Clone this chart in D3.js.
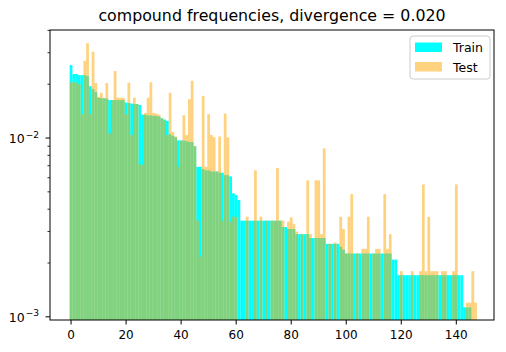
<!DOCTYPE html>
<html>
<head>
<meta charset="utf-8">
<script src="https://cdn.jsdelivr.net/npm/d3@7"></script>
<style>
    body { margin: 0; background: #fff; }
    svg { display: block; font-family: "DejaVu Sans", sans-serif; }
</style>
</head>
<body>
<svg id="chart" width="506" height="352"></svg>
<script>
// values (relative frequency per compound index)
const trainFreq = [
    0.0256, 0.0228, 0.0228, 0.0225, 0.0225, 0.0225, 0.0222, 0.0195, 0.0188, 0.0181,
    0.0168, 0.0167, 0.0167, 0.0166, 0.0163, 0.0163, 0.0163, 0.0163, 0.0163, 0.0163,
    0.0158, 0.0157, 0.0156, 0.0155, 0.0155, 0.0153, 0.0135, 0.0135, 0.0134, 0.0134,
    0.0133, 0.0133, 0.0132, 0.0129, 0.0127, 0.0125, 0.0105, 0.0103, 0.0101, 0.0097,
    0.0097, 0.0097, 0.0096, 0.0095, 0.0095, 0.0090, 0.0069, 0.0069, 0.0067, 0.0066,
    0.0066, 0.0065, 0.0065, 0.0065, 0.0064, 0.0064, 0.0062, 0.0062, 0.0061, 0.0049,
    0.0048, 0.0045, 0.00345, 0.00345, 0.00345, 0.00345, 0.00345, 0.00345, 0.00345, 0.00345,
    0.00345, 0.00345, 0.00345, 0.00345, 0.00345, 0.00345, 0.00345, 0.00318, 0.00318, 0.0031,
    0.0031, 0.0031, 0.0029, 0.0029, 0.0029, 0.0029, 0.0029, 0.00276, 0.00276, 0.00276,
    0.00276, 0.00276, 0.00276, 0.00256, 0.00256, 0.00256, 0.00256, 0.00256, 0.00247, 0.00238,
    0.00226, 0.00226, 0.00226, 0.00226, 0.00226, 0.00226, 0.00226, 0.00226, 0.00226, 0.00226,
    0.00226, 0.00226, 0.00226, 0.00226, 0.00226, 0.00226, 0.00226, 0.00209, 0.00209, 0.00171,
    0.00171, 0.00171, 0.00171, 0.00171, 0.00171, 0.00171, 0.00171, 0.00171, 0.00171, 0.00171,
    0.00171, 0.00171, 0.00171, 0.00171, 0.00171, 0.00171, 0.00171, 0.00171, 0.00171, 0.00171,
    0.00171, 0.00171, 0.00171, 0.00113, 0.00113, 0.00113
];

const testFreq = [
    0.0205, 0.0205, 0.0205, 0.0200, 0.0136, 0.0270, 0.0339, 0.0136, 0.0304, 0.0203,
    0.0170, 0.0179, 0.0167, 0.0203, 0.0106, 0.0163, 0.0237, 0.0168, 0.0168, 0.0168,
    0.0136, 0.0204, 0.0104, 0.0168, 0.0155, 0.0071, 0.0071, 0.0138, 0.0168, 0.0205,
    0.0138, 0.0137, 0.0135, 0.0129, 0.0125, 0.0104, 0.0179, 0.0108, 0.0102, 0.0069,
    0.0096, 0.0134, 0.0104, 0.0165, 0.0209, 0.0090, 0.00345, 0.00217, 0.0172, 0.0069,
    0.0136, 0.0104, 0.0101, 0.0065, 0.0102, 0.00345, 0.0137, 0.0101, 0.0034, 0.00363,
    0.00363, 0, 0, 0, 0.00363, 0, 0, 0.0066, 0, 0.00363,
    0, 0.00345, 0, 0.00345, 0.00345, 0.0068, 0.00345, 0.00345, 0, 0.00341,
    0.0036, 0.0033, 0.0030, 0, 0.0029, 0, 0.0058, 0.0029, 0, 0.0058,
    0.0058, 0.0029, 0.00876, 0, 0.00256, 0, 0.0026, 0, 0.00363, 0.0031,
    0.00226, 0.00363, 0.00486, 0, 0.00226, 0, 0.0024, 0.0024, 0.00363, 0,
    0.00226, 0.0024, 0.0024, 0, 0.00486, 0.0024, 0.0029, 0, 0, 0,
    0.0018, 0, 0, 0, 0.0018, 0, 0, 0.0018, 0.0055, 0.0018,
    0.00363, 0.0018, 0.0018, 0.0018, 0, 0.0018, 0.0018, 0, 0, 0.0018,
    0.0055, 0, 0, 0, 0.0012, 0.0012, 0.0018, 0.0012
];

const seriesNames = ["Train", "Test"];
const xTickValues = [0, 20, 40, 60, 80, 100, 120, 140];
const yMajorTicks = [0.001, 0.01];
const yMinorTicks = [0.002, 0.003, 0.004, 0.005, 0.006, 0.007, 0.008, 0.009, 0.02, 0.03, 0.04];
const chartTitle = "compound frequencies, divergence = 0.020";

class FreqChart {
    constructor(svg_element_id) {
        this.svg = d3.select(`#${svg_element_id}`);
        this.margin = { left: 50, right: 494, top: 30, bottom: 320 };
        this.colors = { Train: "#00ffff", Test: "#ffa500" };
        this.initScales();
        this.drawBars();
        this.drawAxes();
        this.drawLegend();
    }

    initScales() {
        const m = this.margin;
        this.x = d3.scaleLinear().domain([-7.65, 153.7]).range([m.left, m.right]);
        this.y = d3.scaleLog().domain([0.00096, 0.0402]).range([m.bottom, m.top]);

        this.svg.append("defs").append("clipPath")
            .attr("id", "plotClip")
            .append("rect")
            .attr("x", m.left)
            .attr("y", m.top)
            .attr("width", m.right - m.left)
            .attr("height", m.bottom - m.top);
    }

    drawSeries(values, color, opacity) {
        const bars = values.map((v, i) => ({ i: i, v: v })).filter(d => d.v > 0);
        this.svg.append("g")
            .attr("clip-path", "url(#plotClip)")
            .selectAll("rect")
            .data(bars)
            .join("rect")
            .attr("x", d => this.x(d.i - 0.5))
            .attr("width", d => this.x(d.i + 0.5) - this.x(d.i - 0.5))
            .attr("y", d => this.y(d.v))
            .attr("height", d => this.margin.bottom - this.y(d.v))
            .attr("fill", color)
            .attr("fill-opacity", opacity);
    }

    drawBars() {
        this.drawSeries(trainFreq, this.colors.Train, 1);
        this.drawSeries(testFreq, this.colors.Test, 0.5);
    }

    drawAxes() {
        const m = this.margin;

        // x ticks
        const xg = this.svg.append("g");
        xg.selectAll("line")
            .data(xTickValues)
            .join("line")
            .attr("x1", d => this.x(d)).attr("x2", d => this.x(d))
            .attr("y1", m.bottom).attr("y2", m.bottom + 4.5)
            .attr("stroke", "#000").attr("stroke-width", 1);
        xg.selectAll("text")
            .data(xTickValues)
            .join("text")
            .attr("x", d => this.x(d))
            .attr("y", m.bottom + 19)
            .attr("text-anchor", "middle")
            .attr("font-size", "12px")
            .text(d => d);

        // y ticks (log)
        const yg = this.svg.append("g");
        yg.selectAll("line.minor")
            .data(yMinorTicks.filter(d => this.y(d) >= m.top - 0.5))
            .join("line")
            .attr("class", "minor")
            .attr("x1", m.left - 2.5).attr("x2", m.left)
            .attr("y1", d => this.y(d)).attr("y2", d => this.y(d))
            .attr("stroke", "#000").attr("stroke-width", 0.8);
        yg.selectAll("line.major")
            .data(yMajorTicks)
            .join("line")
            .attr("class", "major")
            .attr("x1", m.left - 4.5).attr("x2", m.left)
            .attr("y1", d => this.y(d)).attr("y2", d => this.y(d))
            .attr("stroke", "#000").attr("stroke-width", 1);

        const labels = yg.selectAll("text")
            .data(yMajorTicks)
            .join("text")
            .attr("x", m.left - 11)
            .attr("y", d => this.y(d) + 5)
            .attr("text-anchor", "end")
            .attr("font-size", "12.5px");
        labels.append("tspan").text("10");
        labels.append("tspan")
            .attr("dy", -5.5)
            .attr("dx", 1)
            .attr("font-size", "9px")
            .text(d => "\u2212" + Math.round(-Math.log10(d)));

        // spines
        this.svg.append("rect")
            .attr("x", m.left).attr("y", m.top)
            .attr("width", m.right - m.left)
            .attr("height", m.bottom - m.top)
            .attr("fill", "none")
            .attr("stroke", "#000")
            .attr("stroke-width", 1);

        this.svg.append("text")
            .attr("x", (m.left + m.right) / 2)
            .attr("y", 21)
            .attr("text-anchor", "middle")
            .attr("font-size", "15.8px")
            .text(chartTitle);
    }

    drawLegend() {
        const lg = this.svg.append("g").attr("transform", "translate(410,36)");
        lg.append("rect")
            .attr("width", 80).attr("height", 43)
            .attr("rx", 3)
            .attr("fill", "#fff").attr("fill-opacity", 0.8)
            .attr("stroke", "#cccccc").attr("stroke-width", 1);

        const entry = lg.selectAll("g.legend-entry")
            .data(seriesNames)
            .join("g")
            .attr("class", "legend-entry")
            .attr("transform", (d, i) => `translate(0, ${i * 19.5})`);

        entry.append("rect")
            .attr("x", 5).attr("y", 6.5)
            .attr("width", 27).attr("height", 9.5)
            .attr("fill", d => this.colors[d])
            .attr("fill-opacity", d => d === "Test" ? 0.5 : 1);

        entry.append("text")
            .attr("x", 43).attr("y", 16)
            .attr("font-size", "12.5px")
            .text(d => d);
    }
}

new FreqChart("chart");
</script>
</body>
</html>
